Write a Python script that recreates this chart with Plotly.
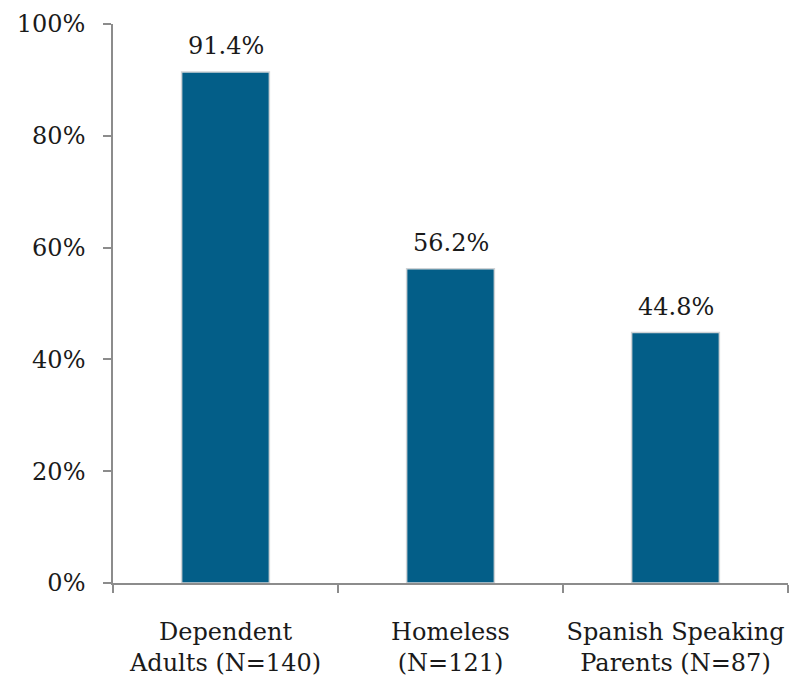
import plotly.graph_objects as go

categories = ["Dependent<br>Adults (N=140)", "Homeless<br>(N=121)", "Spanish Speaking<br>Parents (N=87)"]
values = [91.4, 56.2, 44.8]
value_labels = ["91.4%", "56.2%", "44.8%"]
y_ticks = [0, 20, 40, 60, 80, 100]
y_tick_labels = ["0%", "20%", "40%", "60%", "80%", "100%"]

FONT = "DejaVu Serif"
SIZE = 24

fig = go.Figure()
fig.add_trace(go.Bar(
    x=categories, y=values, width=0.39,
    marker=dict(color="#035E88", line=dict(color="#cfd3d6", width=1.5)),
    hoverinfo="skip",
))
for c, v, t in zip(categories, values, value_labels):
    fig.add_annotation(x=c, y=v, text=t, showarrow=False, yanchor="bottom",
                       yshift=10, font=dict(family=FONT, size=SIZE, color="#1a1a1a"))

fig.update_layout(
    width=789, height=681,
    margin=dict(l=113, r=1, t=24, b=98, autoexpand=False),
    plot_bgcolor="white", paper_bgcolor="white",
    showlegend=False,
    font=dict(family=FONT, size=SIZE, color="#1a1a1a"),
)
fig.update_xaxes(
    showline=True, linecolor="#8c8c8c", linewidth=1.5,
    ticks="outside", ticklen=8, tickcolor="#8c8c8c", tickwidth=1.5,
    tickson="boundaries", showgrid=False, automargin=False,
    tickangle=0, ticklabelstandoff=26,
    tickfont=dict(family=FONT, size=SIZE, color="#1a1a1a"),
)
fig.update_yaxes(
    range=[0, 100], tickvals=y_ticks, ticktext=y_tick_labels,
    showline=True, linecolor="#8c8c8c", linewidth=1.5,
    ticks="outside", ticklen=8, tickcolor="#8c8c8c", tickwidth=1.5,
    showgrid=False, zeroline=False, automargin=False,
    ticklabelstandoff=13,
    tickfont=dict(family=FONT, size=SIZE, color="#1a1a1a"),
)

fig.write_html("out.html", config={"displayModeBar": False},
               post_script="document.body.style.margin='0';")
